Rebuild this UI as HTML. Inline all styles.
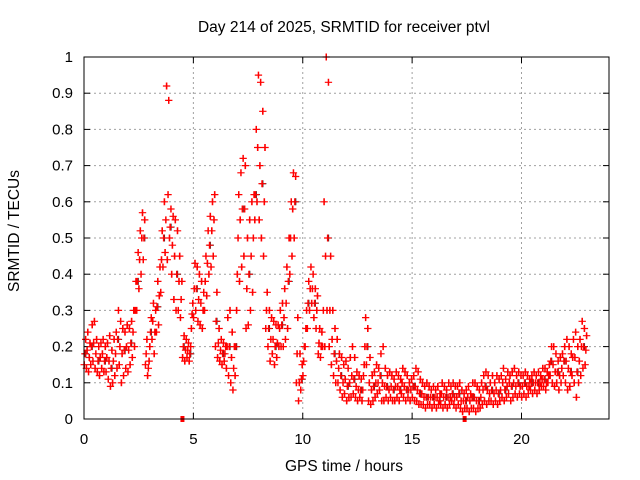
<!DOCTYPE html>
<html><head><meta charset="utf-8"><style>
body{margin:0;background:#fff}
svg{display:block;font-family:"Liberation Sans",sans-serif}
</style></head><body>
<svg id="chart" width="640" height="480" viewBox="0 0 640 480">
<rect width="640" height="480" fill="#fff"/>
<text x="344" y="32" font-size="15.5" text-anchor="middle">Day 214 of 2025, SRMTID for receiver ptvl</text>
<g id="grid"></g>
<g id="ticks"></g>
<g id="pts"></g>
<rect x="84" y="57" width="525" height="362" fill="none" stroke="#000" stroke-width="1"/>
<text x="344" y="471" font-size="15.5" text-anchor="middle">GPS time / hours</text>
<text transform="translate(19,231) rotate(-90)" font-size="15.5" text-anchor="middle">SRMTID / TECUs</text>
</svg>
<script>
const xTicks=[0,5,10,15,20];
const yTicks=[0,0.1,0.2,0.3,0.4,0.5,0.6,0.7,0.8,0.9,1];
const yTickLabels=["0","0.1","0.2","0.3","0.4","0.5","0.6","0.7","0.8","0.9","1"];
const startHour=0, stepHour=0.1;
const lowVals=[
0.15,0.14,0.13,0.15,0.16,0.14,0.13,0.12,0.14,0.13,
0.13,0.11,0.09,0.1,0.12,0.14,0.15,0.1,0.12,0.14,
0.13,0.15,0.17,0.2,0.3,0.36,0.4,0.44,0.15,0.12,
0.2,0.22,0.18,0.24,0.26,0.35,0.42,0.46,0.44,0.5,
0.4,0.33,0.3,0.3,0.28,0.17,0.16,0.17,0.16,0.25,
0.28,0.3,0.27,0.26,0.25,0.3,0.34,0.4,0.42,0.45,
0.2,0.17,0.16,0.15,0.16,0.14,0.12,0.1,0.08,0.12,
0.4,0.38,0.42,0.45,0.25,0.26,0.3,0.35,0.55,0.6,
0.55,0.5,0.45,0.25,0.2,0.16,0.18,0.15,0.17,0.2,
0.2,0.2,0.22,0.25,0.4,0.45,0.5,0.1,0.05,0.08,
0.12,0.2,0.25,0.3,0.32,0.28,0.25,0.18,0.17,0.2,
0.2,0.3,0.2,0.15,0.12,0.1,0.1,0.08,0.06,0.07,
0.05,0.06,0.06,0.07,0.06,0.05,0.06,0.05,0.15,0.15,
0.05,0.04,0.05,0.06,0.07,0.08,0.05,0.05,0.06,0.05,
0.06,0.05,0.05,0.06,0.05,0.07,0.06,0.05,0.06,0.05,
0.06,0.05,0.05,0.04,0.04,0.04,0.03,0.04,0.04,0.03,
0.04,0.03,0.04,0.04,0.03,0.04,0.03,0.04,0.05,0.04,
0.03,0.04,0.03,0.02,0.03,0.03,0.02,0.03,0.03,0.02,
0.03,0.03,0.04,0.05,0.04,0.05,0.05,0.04,0.05,0.04,
0.05,0.06,0.05,0.06,0.07,0.05,0.06,0.07,0.06,0.07,
0.06,0.07,0.06,0.07,0.08,0.07,0.08,0.07,0.08,0.09,
0.09,0.08,0.1,0.12,0.1,0.09,0.1,0.08,0.1,0.12,
0.1,0.08,0.09,0.12,0.1,0.06,0.1,0.12,0.14,0.15];
const midVals=[
0.18,0.19,0.17,0.2,0.21,0.18,0.16,0.17,0.18,0.16,
0.17,0.16,0.14,0.16,0.18,0.22,0.2,0.18,0.19,0.2,
0.19,0.21,0.24,0.3,0.38,0.44,0.5,0.5,0.18,0.14,
0.24,0.27,0.24,0.31,0.34,0.44,0.5,0.55,0.62,0.53,
0.48,0.45,0.4,0.38,0.33,0.2,0.19,0.19,0.18,0.29,
0.36,0.36,0.33,0.32,0.3,0.38,0.43,0.48,0.52,0.55,
0.27,0.21,0.19,0.18,0.18,0.2,0.2,0.17,0.14,0.2,
0.5,0.55,0.58,0.58,0.36,0.4,0.45,0.5,0.62,0.75,
0.7,0.65,0.6,0.3,0.25,0.22,0.22,0.2,0.21,0.25,
0.26,0.28,0.32,0.38,0.5,0.58,0.6,0.18,0.1,0.11,
0.16,0.25,0.32,0.36,0.36,0.32,0.3,0.21,0.2,0.3,
0.45,0.5,0.3,0.22,0.18,0.16,0.14,0.12,0.1,0.11,
0.09,0.1,0.12,0.11,0.09,0.08,0.08,0.08,0.2,0.2,
0.1,0.08,0.09,0.1,0.1,0.12,0.1,0.09,0.09,0.08,
0.09,0.08,0.09,0.09,0.08,0.1,0.09,0.08,0.08,0.08,
0.09,0.09,0.08,0.07,0.07,0.06,0.06,0.06,0.06,0.06,
0.06,0.06,0.05,0.07,0.06,0.06,0.06,0.06,0.07,0.06,
0.06,0.07,0.05,0.05,0.05,0.06,0.05,0.06,0.06,0.05,
0.05,0.06,0.08,0.09,0.08,0.07,0.08,0.07,0.08,0.07,
0.08,0.1,0.08,0.09,0.1,0.09,0.1,0.09,0.1,0.09,
0.09,0.1,0.09,0.09,0.1,0.1,0.1,0.1,0.1,0.11,
0.11,0.1,0.12,0.16,0.15,0.13,0.13,0.12,0.14,0.16,
0.16,0.14,0.13,0.17,0.17,0.13,0.16,0.2,0.2,0.19];
const highVals=[
0.22,0.24,0.21,0.26,0.27,0.22,0.2,0.21,0.22,0.2,
0.21,0.23,0.19,0.22,0.24,0.3,0.27,0.25,0.24,0.26,
0.25,0.27,0.3,0.38,0.46,0.52,0.57,0.55,0.22,0.16,
0.28,0.32,0.3,0.38,0.42,0.52,0.6,0.92,0.88,0.58,
0.56,0.55,0.52,0.45,0.38,0.23,0.22,0.21,0.2,0.32,
0.43,0.42,0.4,0.38,0.35,0.45,0.52,0.56,0.6,0.62,
0.35,0.25,0.22,0.21,0.2,0.28,0.3,0.24,0.2,0.3,
0.62,0.68,0.72,0.7,0.5,0.55,0.6,0.62,0.8,0.95,
0.93,0.85,0.75,0.35,0.3,0.28,0.27,0.26,0.26,0.3,
0.32,0.36,0.42,0.5,0.6,0.68,0.67,0.28,0.18,0.15,
0.2,0.3,0.38,0.42,0.4,0.36,0.34,0.25,0.24,0.6,
1.0,0.93,0.45,0.3,0.25,0.22,0.18,0.17,0.15,0.16,
0.14,0.17,0.2,0.17,0.13,0.12,0.11,0.12,0.28,0.25,
0.17,0.12,0.13,0.15,0.14,0.18,0.2,0.14,0.12,0.13,
0.12,0.11,0.13,0.12,0.11,0.14,0.13,0.12,0.1,0.11,
0.12,0.14,0.13,0.11,0.1,0.09,0.1,0.09,0.08,0.09,
0.08,0.09,0.07,0.1,0.09,0.08,0.1,0.09,0.1,0.09,
0.09,0.1,0.08,0.07,0.08,0.09,0.07,0.1,0.1,0.09,
0.08,0.1,0.12,0.13,0.12,0.1,0.12,0.1,0.12,0.11,
0.12,0.14,0.11,0.13,0.12,0.13,0.14,0.12,0.13,0.12,
0.12,0.13,0.12,0.11,0.12,0.13,0.12,0.13,0.12,0.14,
0.14,0.13,0.15,0.2,0.2,0.18,0.16,0.17,0.18,0.2,
0.22,0.2,0.18,0.22,0.24,0.2,0.22,0.27,0.25,0.23];
const markerHours=[4.5,17.4];

const NS="http://www.w3.org/2000/svg";
const X0=84,X1=609,Y0=419,Y1=57,XMAX=24,YMAX=1;
const sx=t=>X0+(t/XMAX)*(X1-X0);
const sy=v=>Y0-(v/YMAX)*(Y0-Y1);
function mk(tag,attrs,parent){const e=document.createElementNS(NS,tag);for(const k in attrs)e.setAttribute(k,attrs[k]);parent.appendChild(e);return e;}
const grid=document.getElementById('grid'),ticks=document.getElementById('ticks'),pts=document.getElementById('pts');
xTicks.forEach(t=>{
  const x=sx(t);
  if(t>0){const g=mk('line',{x1:x,x2:x,y1:Y1,y2:Y0,stroke:'#a0a0a0','stroke-dasharray':'2,3'},grid);
  
  }
  mk('line',{x1:x,x2:x,y1:Y0,y2:Y0-6,stroke:'#000'},ticks);
  mk('line',{x1:x,x2:x,y1:Y1,y2:Y1+6,stroke:'#000'},ticks);
  const l=mk('text',{x:x,y:Y0+25,'font-size':15,'text-anchor':'middle'},ticks);
  l.textContent=t;
  
  
});
yTicks.forEach((v,i)=>{
  const y=sy(v);
  if(v>0&&v<YMAX){const g=mk('line',{x1:X0,x2:X1,y1:y,y2:y,stroke:'#a0a0a0','stroke-dasharray':'2,3'},grid);
  
  }
  mk('line',{x1:X0,x2:X0+6,y1:y,y2:y,stroke:'#000'},ticks);
  mk('line',{x1:X1,x2:X1-6,y1:y,y2:y,stroke:'#000'},ticks);
  const l=mk('text',{x:X0-11,y:y+5,'font-size':15,'text-anchor':'end'},ticks);
  l.textContent=yTickLabels[i];
  
  
});
let d='',dk='';
function cross(t,v,dark){const x=sx(t),y=sy(v);const s=`M${(x-3.5).toFixed(1)} ${y.toFixed(1)}h7M${x.toFixed(1)} ${(y-3.5).toFixed(1)}v7`;if(dark)dk+=s;else d+=s;}
midVals.forEach((v,i)=>{if(i%3===0)cross(startHour+i*stepHour+0.08,v,true);});
[lowVals,midVals,highVals].forEach((arr,k)=>{
  arr.forEach((v,i)=>{
    const t=startHour+i*stepHour+k*stepHour/3;
    cross(t,v,false);
    cross(t+stepHour/6,v,false);
  });
});
const pd=mk('path',{d:dk,stroke:'#333','stroke-width':1.1,fill:'none'},pts);


const p=mk('path',{d:d,stroke:'#f00','stroke-width':1.2,fill:'none'},pts);


markerHours.forEach(t=>{
  const r=mk('rect',{x:sx(t)-2,y:Y0-3,width:4,height:6,fill:'#f00'},pts);
  
  
});
</script>
</body></html>
